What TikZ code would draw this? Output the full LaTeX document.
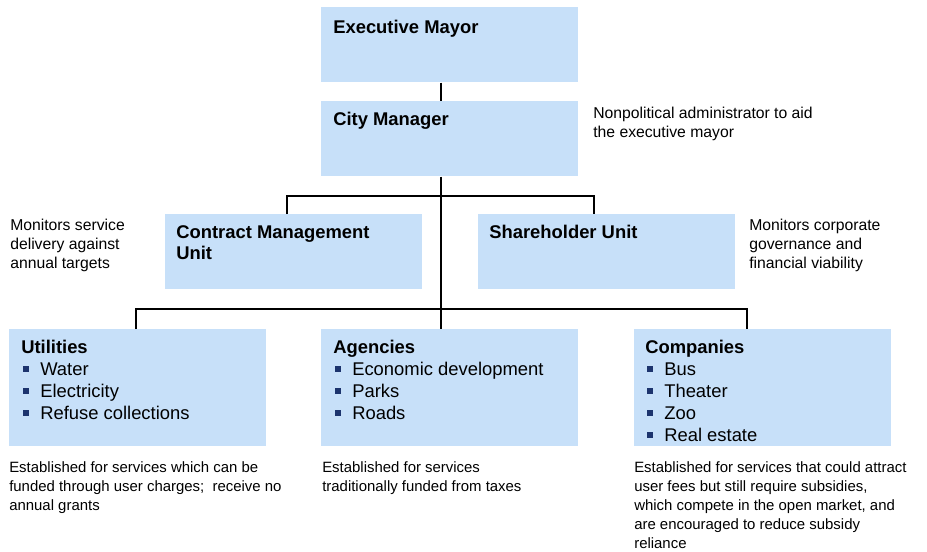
\documentclass[tikz,border=0pt]{standalone}
\usepackage{fontspec}
\setmainfont{Liberation Sans}
\usetikzlibrary{positioning}
\definecolor{boxblue}{RGB}{199,224,249}
\definecolor{bulletblue}{RGB}{28,52,110}
\newcommand{\sqbullet}{\makebox[14.25pt][l]{\hspace{1.5pt}\textcolor{bulletblue}{\rule[0.2em]{0.32em}{0.32em}}}}

\begin{document}
\begin{tikzpicture}[x=0.75pt, y=-0.75pt,
  box/.style={fill=boxblue, anchor=north west, inner sep=0pt,
    minimum width=192.75pt, minimum height=56.25pt},
  tallbox/.style={box, minimum height=87.75pt},
  title/.style={anchor=north west, inner sep=0pt, align=left,
    font=\fontsize{13.8}{15.75}\selectfont\bfseries},
  items/.style={anchor=north west, inner sep=0pt, align=left,
    font=\fontsize{13.8}{16.5}\selectfont},
  note/.style={anchor=north west, inner sep=0pt, align=left,
    font=\fontsize{11.8}{14.25}\selectfont},
  fnote/.style={note, font=\fontsize{11.2}{14.4}\selectfont},
  link/.style={line width=1.2pt}]
  \useasboundingbox (0,0) rectangle (927,551);

  % ---- Boxes ----
  \node[box] (mayor) at (321,7) {};
  \node[box] (manager) at (321,101) {};
  \node[box] (contract) at (165,214) {};
  \node[box] (share) at (478,214) {};
  \node[tallbox] (util) at (9,329) {};
  \node[tallbox] (agency) at (321,329) {};
  \node[tallbox] (company) at (634,329) {};

  % ---- Connectors ----
  \draw[link] (mayor.south -| 441,0) -- (manager.north -| 441,0);
  \draw[link] (manager.south -| 441,0) -- (agency.north -| 441,0);
  \draw[link] (contract.north -| 287,0) -- ++(0,-18) -| (share.north -| 594,0);
  \draw[link] (util.north -| 136,0) -- ++(0,-20) -| (company.north -| 747,0);

  % ---- Box texts ----
  \node[title] (mayortxt) at (333,20) {Executive Mayor};
  \node[title] (managertxt) at (333,112) {City Manager};
  \node[title] (contracttxt) at (176,225) {Contract Management\\Unit};
  \node[title] (sharetxt) at (489,225) {Shareholder Unit};
  \node[items] (utiltxt) at (21,340) {\textbf{Utilities}\\
    \sqbullet Water\\ \sqbullet Electricity\\ \sqbullet Refuse collections};
  \node[items] (agencytxt) at (333,340) {\textbf{Agencies}\\
    \sqbullet Economic development\\ \sqbullet Parks\\ \sqbullet Roads};
  \node[items] (companytxt) at (645,340) {\textbf{Companies}\\
    \sqbullet Bus\\ \sqbullet Theater\\ \sqbullet Zoo\\ \sqbullet Real estate};

  % ---- Side notes ----
  \node[note] (managernote) at (593,107) {Nonpolitical administrator to aid\\the executive mayor};
  \node[note] (contractnote) at (10,219) {Monitors service\\delivery against\\annual targets};
  \node[note] (sharenote) at (749,219) {Monitors corporate\\governance and\\financial viability};

  % ---- Footnotes ----
  \node[fnote] (utilnote) at (9,461) {Established for services which can be\\funded through user charges;\ \ receive no\\annual grants};
  \node[fnote] (agencynote) at (322,461) {Established for services\\traditionally funded from taxes};
  \node[fnote] (companynote) at (634,461) {Established for services that could attract\\user fees but still require subsidies,\\which compete in the open market, and\\are encouraged to reduce subsidy\\reliance};
\end{tikzpicture}
\end{document}
